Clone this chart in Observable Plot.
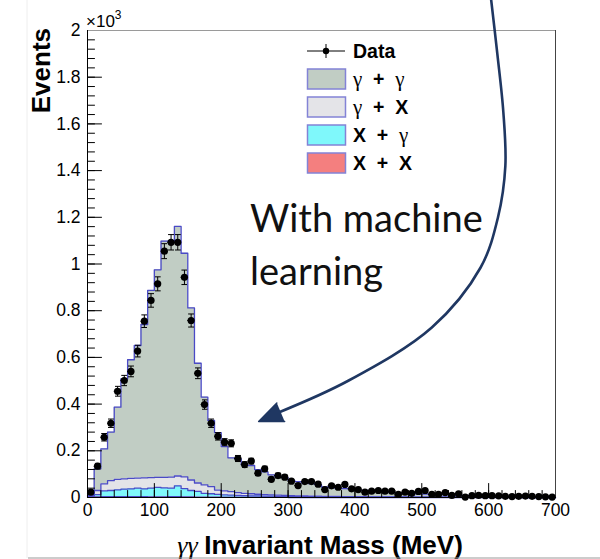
<!DOCTYPE html>
<html><head><meta charset="utf-8">
<script src="https://cdn.jsdelivr.net/npm/d3@7"></script>
<script src="https://cdn.jsdelivr.net/npm/@observablehq/plot@0.6"></script>
<style>
html,body{margin:0;padding:0;background:#fff;}
#chart{position:relative;width:600px;height:559px;overflow:hidden;}
</style></head><body><div id="chart"></div>
<script>
// ---- bins (MeV, lower edges) ----
const binLow = [0,10,20,30,40,50,60,70,80,90,100,110,120,130,140,150,160,170,180,190,200,210,220,230,240,250,260,270,280,290,300,310,320,330,340,350,360,370,380,390,400,410,420,430,440,450,460,470,480,490,500,510,520,530,540,550,560,570,580,590,600,610,620,630,640,650,660,670,680,690];
const binWidth = 10;

// ---- data (events per bin) ----
const dataCounts = [23,134,258,318,455,501,540,627,755,844,915,1055,1093,1093,943,758,532,398,318,262,237,232,167,141,156,104,123,78,94,87,70,51,68,68,57,34,50,44,56,37,34,23,27,30,27,27,13,23,18,26,30,13,13,21,9,16,2,8,9,8,8,7,5,4,5,6,5,4,3,2];
const dataErrors = [5,12,16,18,21,22,23,25,27,29,30,32,33,33,31,28,23,20,18,16,15,15,13,12,12,10,11,9,10,9,8,7,8,8,8,6,7,7,7,6,6,5,5,5,5,5,4,5,4,5,5,4,4,5,3,4,2,3,3,3,3,3,2,2,2,2,2,2,2,1];

// ---- simulated components (events per bin) ----
const XXCounts = [1,3,4,4,4,4,4,4,4,3,3,3,4,4,3,3,2,2,2,2,1,1,1,1,1,1,1,1,1,1,0,0,0,0,0,0,0,0,0,0,0,0,0,0,0,0,0,0,0,0,0,0,0,0,0,0,0,0,0,0,0,0,0,0,0,0,0,0,0,0];
const XgCounts = [3,9,24,26,29,32,33,36,33,37,40,38,36,46,35,27,24,16,14,11,10,9,8,7,6,6,5,5,4,4,5,4,4,4,3,3,3,3,3,3,2,2,2,2,2,2,2,2,1,1,1,1,1,1,1,1,1,1,1,1,1,1,1,1,1,0,0,0,0,0];
const gXCounts = [4,18,30,42,45,44,45,43,47,45,43,45,47,42,50,45,36,36,31,19,17,15,12,10,9,7,6,5,5,4,3,3,3,2,3,2,2,2,1,1,2,2,1,1,1,1,1,1,1,1,1,1,1,1,1,0,0,0,0,0,0,0,0,0,0,1,0,0,0,0];
const ggCounts = [7,93,150,208,309,428,508,568,657,802,889,1012,1011,1069,958,737,513,376,283,246,190,145,144,122,121,105,98,86,80,76,65,61,55,54,49,40,37,35,34,31,28,26,25,23,21,19,17,15,15,14,13,12,11,10,9,9,8,7,6,5,5,4,4,3,3,3,3,3,3,2];

const components = ["X + X", "X + γ", "γ + X", "γ + γ"];   // stacking order, bottom to top
const componentColors = ["#f47f7f", "#7ff8fb", "#e4e4e8", "#c1cdc4"];
const legendLabels = ["Data", "γ + γ", "γ + X", "X + γ", "X + X"];

// ---- axes ----
const xTicks = [0,100,200,300,400,500,600,700];
const xTickLabels = ["0","100","200","300","400","500","600","700"];
const yTicks = [0,200,400,600,800,1000,1200,1400,1600,1800,2000];
const yTickLabels = ["0","0.2","0.4","0.6","0.8","1","1.2","1.4","1.6","1.8","2"];
const xMinor = d3.range(0, 701, 20);
const yMinor = d3.range(0, 2001, 40);

// ---- annotation ----
const annotLines = [
  {text: "With machine", x: 243, y: 1139},
  {text: "learning", x: 243, y: 908}
];
const arrowPts = [
  {x: 603, y: 2150}, {x: 613, y: 1900}, {x: 622, y: 1650}, {x: 625, y: 1420},
  {x: 614, y: 1200}, {x: 588, y: 985}, {x: 515, y: 728}, {x: 390, y: 500}, {x: 284, y: 362}
];
const arrowHead = [{x: 256, y: 325}];

// ---- build tables: step histogram edges, stacked by component ----
const series = [XXCounts, XgCounts, gXCounts, ggCounts];
const histTable = [];
series.forEach((vals, s) => {
  binLow.forEach((x, i) => histTable.push({comp: components[s], x, y: vals[i]}));
  histTable.push({comp: components[s], x: binLow[binLow.length - 1] + binWidth, y: vals[vals.length - 1]});
});

const pts = dataCounts.map((v, i) => ({
  x: binLow[i] + binWidth / 2, lo: binLow[i], hi: binLow[i] + binWidth, y: v, e: dataErrors[i]
}));

const tickShape = {draw(context, l) { context.moveTo(0, 0); context.lineTo(0, -l); }};
const outline = "#4a4ac6";
const arrowColor = "#1f3762";

const plot = Plot.plot({
  width: 600,
  height: 559,
  marginLeft: 87,
  marginRight: 45,
  marginTop: 30,
  marginBottom: 62,
  style: {fontFamily: "'Liberation Sans', Arial, Helvetica, sans-serif", fontSize: "17.5px", color: "#000", background: "#fff", overflow: "visible"},
  x: {domain: [0, 700]},
  y: {domain: [0, 2000]},
  color: {domain: components, range: componentColors},
  marks: [
    Plot.areaY(histTable, {x: "x", y: "y", z: "comp", fill: "comp", curve: "step-after"}),
    Plot.lineY(histTable, Plot.stackY2({x: "x", y: "y", z: "comp", curve: "step-after", stroke: outline, strokeWidth: 1.3})),
    // inner ticks (ROOT style)
    Plot.vector(xMinor, {x: d => d, y: 0, length: 7, rotate: 0, anchor: "start", shape: tickShape, stroke: "#000", strokeWidth: 1}),
    Plot.vector(xTicks, {x: d => d, y: 0, length: 14, rotate: 0, anchor: "start", shape: tickShape, stroke: "#000", strokeWidth: 1}),
    Plot.vector(yMinor, {x: 0, y: d => d, length: 7, rotate: 90, anchor: "start", shape: tickShape, stroke: "#000", strokeWidth: 1}),
    Plot.vector(yTicks, {x: 0, y: d => d, length: 14, rotate: 90, anchor: "start", shape: tickShape, stroke: "#000", strokeWidth: 1}),
    Plot.axisX({ticks: xTicks, tickSize: 0, tickPadding: 6, tickFormat: (d, i) => xTickLabels[i], label: null}),
    Plot.axisY({ticks: yTicks, tickSize: 0, tickPadding: 7, tickFormat: (d, i) => yTickLabels[i], label: null}),
    Plot.ruleY([2000], {stroke: "#9a9a9a"}),
    Plot.ruleX([700], {stroke: "#444"}),
    Plot.ruleX([0], {stroke: "#000"}),
    Plot.ruleY([0], {stroke: "#000"}),
    // data with error bars
    Plot.ruleY(pts, {y: "y", x1: "lo", x2: "hi", stroke: "#000"}),
    Plot.link(pts, {x1: "x", x2: "x", y1: d => d.y - d.e, y2: d => d.y + d.e, stroke: "#000", markerStart: "tick", markerEnd: "tick"}),
    Plot.dot(pts, {x: "x", y: "y", r: 3.6, fill: "#000"}),
    // annotation
    Plot.text(annotLines, {x: "x", y: "y", text: "text", textAnchor: "start", lineAnchor: "bottom", fontSize: 38, fontFamily: "Lato, sans-serif", fill: "#111"}),
    Plot.line(arrowPts, {x: "x", y: "y", curve: "catmull-rom", stroke: arrowColor, strokeWidth: 2.6}),
    Plot.vector(arrowHead, {x: "x", y: "y", length: 24, rotate: 247, anchor: "end", shape: "spike", r: 10, fill: arrowColor, stroke: arrowColor})
  ]
});

document.getElementById("chart").appendChild(plot);

// ---- titles, multiplier, legend (real text) ----
const svg = d3.select(plot);
const sans = "'Liberation Sans', Arial, Helvetica, sans-serif";
const serif = "'Liberation Serif', 'DejaVu Serif', serif";

// x10^3
const mult = svg.append("text").attr("x", 86).attr("y", 27).attr("text-anchor", "start")
  .attr("font-family", sans).attr("font-size", 17);
mult.append("tspan").text("×10");
mult.append("tspan").attr("dy", -8).attr("font-size", 12).text("3");

// y title
svg.append("text")
  .attr("transform", "translate(50,28) rotate(-90)")
  .attr("text-anchor", "end")
  .attr("font-family", sans).attr("font-weight", "bold").attr("font-size", 26)
  .text("Events");

// x title
const xt = svg.append("text").attr("x", 320).attr("y", 554).attr("text-anchor", "middle")
  .attr("font-size", 26).style("white-space", "pre");
xt.append("tspan").attr("font-family", serif).attr("font-style", "italic").text("γγ ");
xt.append("tspan").attr("font-family", sans).attr("font-weight", "bold").text("Invariant Mass (MeV)");

// legend
const lg = svg.append("g").attr("text-anchor", "start");
const rowY = i => 51 + 28 * i;
const swatchFill = {"γ + γ": componentColors[3], "γ + X": componentColors[2], "X + γ": componentColors[1], "X + X": componentColors[0]};
legendLabels.forEach((lab, i) => {
  const y = rowY(i);
  if (lab === "Data") {
    lg.append("line").attr("x1", 307).attr("x2", 345).attr("y1", y).attr("y2", y).attr("stroke", "#000");
    lg.append("line").attr("x1", 326).attr("x2", 326).attr("y1", y - 7).attr("y2", y + 7).attr("stroke", "#000");
    lg.append("circle").attr("cx", 326).attr("cy", y).attr("r", 3.2).attr("fill", "#000");
  } else {
    lg.append("rect").attr("x", 307.5).attr("y", y - 10).attr("width", 38).attr("height", 20)
      .attr("fill", swatchFill[lab]).attr("stroke", "#8383d6").attr("stroke-width", 1.5);
  }
  const t = lg.append("text").attr("x", 353).attr("y", y + 7).attr("text-anchor", "start")
    .attr("font-size", 19.5).style("white-space", "pre");
  lab.split(/(γ)/).filter(s => s.length).forEach(tok => {
    if (tok === "γ") t.append("tspan").attr("font-family", serif).attr("font-size", 21).text("γ");
    else t.append("tspan").attr("font-family", sans).attr("font-weight", "bold").text(tok.replace(/ \+ /, "  +  "));
  });
});

// photo edges
svg.append("line").attr("x1", 28).attr("x2", 600).attr("y1", 558).attr("y2", 558).attr("stroke", "#999");
svg.append("line").attr("x1", 27).attr("x2", 27).attr("y1", 0).attr("y2", 558).attr("stroke", "#eee");
</script></body></html>
